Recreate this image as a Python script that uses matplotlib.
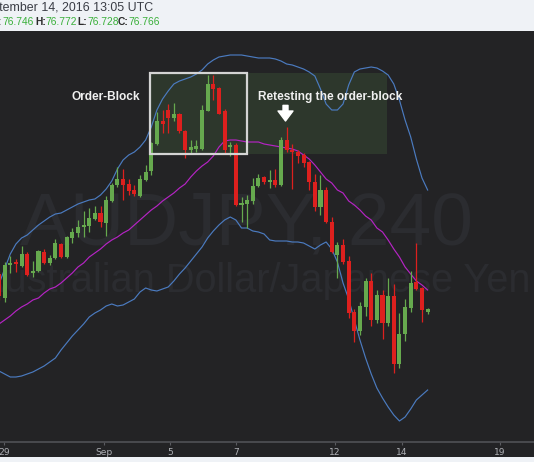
import numpy as np
import matplotlib
matplotlib.use("Agg")
import matplotlib.pyplot as plt
from matplotlib.patches import Rectangle

# ── AUDJPY 4H candles (price values) ──────────────────────────────────────────
opens = [77.046, 76.854, 77.118, 77.142, 77.110, 77.206, 77.054, 77.070, 77.222, 77.134,
         77.174, 77.286, 77.182, 77.338, 77.378, 77.422, 77.430, 77.486, 77.534, 77.458,
         77.634, 77.754, 77.802, 77.762, 77.714, 77.670, 77.798, 77.870, 78.086, 78.266,
         78.358, 78.290, 78.322, 78.190, 78.038, 78.050, 78.050, 78.354, 78.566, 78.530,
         78.346, 78.058, 78.078, 77.598, 77.606, 77.626, 77.750, 77.818, 77.782, 77.798,
         77.754, 78.118, 78.034, 78.026, 77.998, 77.938, 77.782, 77.586, 77.718, 77.466,
         77.194, 77.278, 77.146, 76.738, 76.594, 76.782, 76.986, 76.678, 76.878, 76.658,
         76.870, 76.326, 76.566, 76.774, 76.978, 76.930, 76.746]
highs = [77.070, 77.142, 77.190, 77.166, 77.270, 77.222, 77.150, 77.238, 77.246, 77.198,
         77.326, 77.294, 77.350, 77.414, 77.478, 77.550, 77.574, 77.590, 77.590, 77.670,
         77.774, 77.902, 77.886, 77.806, 77.758, 77.838, 77.918, 78.102, 78.342, 78.358,
         78.410, 78.414, 78.334, 78.198, 78.122, 78.122, 78.398, 78.638, 78.638, 78.542,
         78.366, 78.106, 78.094, 77.666, 77.678, 77.810, 77.850, 77.830, 77.878, 77.882,
         78.138, 78.226, 78.086, 78.038, 78.014, 77.954, 77.850, 77.838, 77.746, 77.502,
         77.306, 77.322, 77.186, 76.766, 76.826, 77.010, 77.054, 76.922, 76.918, 77.018,
         76.966, 76.730, 76.850, 77.066, 77.290, 76.942, 76.772]
lows = [76.838, 76.822, 77.054, 77.062, 77.102, 77.030, 77.022, 77.062, 77.126, 77.118,
        77.166, 77.174, 77.174, 77.294, 77.342, 77.342, 77.382, 77.478, 77.422, 77.350,
        77.622, 77.742, 77.638, 77.678, 77.670, 77.662, 77.790, 77.838, 78.078, 78.174,
        78.170, 78.266, 78.178, 77.974, 78.010, 78.022, 78.038, 78.346, 78.438, 78.322,
        78.014, 77.990, 77.590, 77.466, 77.414, 77.610, 77.742, 77.770, 77.738, 77.746,
        77.750, 78.026, 77.726, 77.934, 77.902, 77.718, 77.546, 77.518, 77.454, 77.214,
        77.010, 77.130, 76.694, 76.502, 76.554, 76.710, 76.630, 76.650, 76.526, 76.630,
        76.258, 76.298, 76.514, 76.746, 76.918, 76.666, 76.728]
closes = [76.870, 77.118, 77.134, 77.126, 77.206, 77.038, 77.070, 77.230, 77.134, 77.174,
          77.294, 77.182, 77.342, 77.382, 77.422, 77.442, 77.494, 77.534, 77.462, 77.638,
          77.758, 77.802, 77.758, 77.706, 77.690, 77.802, 77.862, 78.094, 78.266, 78.246,
          78.290, 78.322, 78.186, 78.038, 78.058, 78.066, 78.358, 78.566, 78.522, 78.330,
          78.038, 78.074, 77.598, 77.610, 77.634, 77.750, 77.818, 77.778, 77.798, 77.754,
          78.118, 78.034, 78.022, 77.994, 77.934, 77.782, 77.586, 77.718, 77.466, 77.226,
          77.278, 77.146, 76.730, 76.594, 76.786, 76.986, 76.678, 76.878, 76.658, 76.870,
          76.326, 76.570, 76.778, 76.978, 76.926, 76.754, 76.766]

# ── Bollinger bands (upper / basis / lower), one value per candle ─────────────
bb_upper = [76.966, 77.086, 77.206, 77.286, 77.334, 77.358, 77.398, 77.438, 77.470, 77.502,
            77.526, 77.534, 77.558, 77.582, 77.606, 77.622, 77.638, 77.646, 77.678, 77.726,
            77.790, 77.886, 77.958, 77.998, 78.022, 78.062, 78.118, 78.222, 78.358, 78.446,
            78.510, 78.566, 78.590, 78.606, 78.622, 78.646, 78.678, 78.726, 78.758, 78.782,
            78.790, 78.798, 78.798, 78.798, 78.790, 78.782, 78.774, 78.774, 78.774, 78.766,
            78.750, 78.726, 78.718, 78.702, 78.686, 78.662, 78.630, 78.526, 78.406, 78.358,
            78.358, 78.406, 78.558, 78.662, 78.686, 78.694, 78.702, 78.694, 78.670, 78.638,
            78.566, 78.438, 78.278, 78.142, 77.966, 77.814, 77.718]
bb_basis = [76.646, 76.678, 76.710, 76.750, 76.782, 76.806, 76.838, 76.854, 76.894, 76.926,
            76.942, 76.974, 77.014, 77.054, 77.102, 77.134, 77.182, 77.214, 77.246, 77.286,
            77.318, 77.342, 77.374, 77.398, 77.438, 77.478, 77.518, 77.558, 77.590, 77.630,
            77.662, 77.694, 77.734, 77.766, 77.822, 77.870, 77.910, 77.942, 77.990, 78.062,
            78.110, 78.118, 78.118, 78.110, 78.102, 78.102, 78.102, 78.086, 78.078, 78.070,
            78.062, 78.054, 78.046, 78.030, 77.998, 77.966, 77.918, 77.862, 77.806, 77.774,
            77.718, 77.694, 77.630, 77.598, 77.558, 77.510, 77.478, 77.414, 77.382, 77.318,
            77.246, 77.182, 77.102, 77.046, 76.990, 76.958, 76.918]
bb_lower = [76.270, 76.246, 76.222, 76.222, 76.230, 76.246, 76.262, 76.286, 76.310, 76.342,
            76.374, 76.438, 76.494, 76.550, 76.598, 76.646, 76.702, 76.734, 76.758, 76.790,
            76.806, 76.790, 76.798, 76.822, 76.846, 76.902, 76.934, 76.918, 76.910, 76.926,
            76.942, 76.990, 77.046, 77.094, 77.150, 77.206, 77.262, 77.334, 77.390, 77.438,
            77.478, 77.502, 77.478, 77.414, 77.414, 77.390, 77.382, 77.366, 77.318, 77.310,
            77.310, 77.310, 77.302, 77.302, 77.294, 77.270, 77.246, 77.278, 77.302, 77.246,
            77.142, 76.974, 76.846, 76.678, 76.518, 76.374, 76.246, 76.134, 76.054, 75.982,
            75.918, 75.870, 75.902, 75.966, 76.038, 76.078, 76.118]

# x-axis day labels, placed at bar-index positions
tick_pos = [0.9, 18.7, 30.3, 42.1, 59.6, 71.4, 88.8]
tick_labels = ["29", "Sep", "5", "7", "12", "14", "19"]

# ── Colours ───────────────────────────────────────────────────────────────────
BG = "#232325"
LIGHT = "#eff2f6"
GREEN = "#66a94e"
RED = "#dd201e"
BLUE = "#4b7bc0"
MAGENTA = "#b523c4"
ZONE = (0.40, 0.63, 0.32, 0.16)
WATERMARK = "#2b2c30"
FONT = "Liberation Sans"

W, H = 534, 462
fig = plt.figure(figsize=(W / 100, H / 100), dpi=100, facecolor=BG)
ax = fig.add_axes([0, 20 / H, 1, 411 / H])
ax.set_facecolor(BG)

x = np.arange(len(opens))
o, c = np.array(opens), np.array(closes)
cols = np.where(c >= o, GREEN, RED)

# watermark (symbol + description)
ax.text(246 / W, (H - 245) / H, "AUDJPY, 240", transform=fig.transFigure,
        ha="center", va="baseline", fontsize=54, color=WATERMARK,
        family=FONT, zorder=0)
ax.text(254 / W, (H - 292) / H, "Australian Dollar/Japanese Yen",
        transform=fig.transFigure, ha="center", va="baseline", fontsize=28.6,
        color=WATERMARK, family=FONT, zorder=0)

# order-block zone and retest zone
ax.add_patch(Rectangle((26.77, 78.004), 43.92 - 26.77, 0.648, facecolor=ZONE,
                       edgecolor="none", zorder=1))
ax.add_patch(Rectangle((43.92, 78.004), 68.74 - 43.92, 0.648, facecolor=ZONE,
                       edgecolor="none", zorder=1))

# bands
ax.plot(x, bb_upper, color=BLUE, lw=0.85, zorder=2)
ax.plot(x, bb_lower, color=BLUE, lw=0.85, zorder=2)
ax.plot(x, bb_basis, color=MAGENTA, lw=0.85, zorder=2)

# candles
ax.vlines(x, lows, highs, colors=cols, lw=0.9, zorder=3)
ax.bar(x, np.maximum(np.abs(c - o), 0.01), bottom=np.minimum(o, c),
       width=0.72, color=cols, lw=0, zorder=4)

# order-block outline on top
ax.add_patch(Rectangle((26.77, 78.004), 43.92 - 26.77, 0.648, facecolor="none",
                       edgecolor="#d4d4d4", lw=1.6, zorder=5))

ax.text(12.89, 78.464, "Order-Block", ha="left", va="center", fontsize=8.6,
        fontweight="bold", color="#f0f0f0", family=FONT, zorder=6)
ax.text(45.98, 78.464, "Retesting the order-block", ha="left", va="center",
        fontsize=8.6, fontweight="bold", color="#f0f0f0", family=FONT, zorder=6)
ax.annotate("", xy=(50.8, 78.27), xytext=(50.8, 78.395),
            arrowprops=dict(arrowstyle="simple,head_width=0.9,head_length=0.6,tail_width=0.3",
                            color="white", mutation_scale=12, shrinkA=0, shrinkB=0),
            zorder=6)

ax.set_xlim(0.177, 94.86)
ax.set_ylim(75.702, 78.990)
for side in ["top", "right", "left"]:
    ax.spines[side].set_visible(False)
ax.spines["bottom"].set_color("#4d4e52")
ax.spines["bottom"].set_linewidth(1.3)
ax.set_yticks([])
ax.set_xticks(tick_pos, tick_labels)
ax.tick_params(axis="x", colors="#5a5b60", length=2.5, width=0.8, pad=1.5,
               labelsize=6.6, labelcolor="#aeb0b5")

# light strips top and bottom (page background around the chart)
fig.patches.append(Rectangle((0, (H - 31) / H), 1, 31 / H, transform=fig.transFigure,
                             facecolor=LIGHT, edgecolor="none", zorder=-1))
fig.patches.append(Rectangle((0, 0), 1, 5 / H, transform=fig.transFigure,
                             facecolor=LIGHT, edgecolor="none", zorder=-1))

# header: date line and OHLC of the last bar
fig.text(153 / W, (H - 8.5) / H, "September 14, 2016 13:05 UTC", ha="right",
         va="center", fontsize=8.9, color="#3a3d45", family=FONT)
y2 = (H - 22) / H
fig.text(2 / W, y2, "O:", ha="right", va="center", fontsize=7.4,
         fontweight="bold", color="#2a2a2a", family=FONT)
header = [("", opens[-1], 2.7), ("H:", highs[-1], 35), ("L:", lows[-1], 77),
          ("C:", closes[-1], 118)]
for lab, val, px in header:
    vx = px
    if lab:
        fig.text(px / W, y2, lab, ha="left", va="center", fontsize=7.4,
                 fontweight="bold", color="#2a2a2a", family=FONT)
        vx = px + 10
    fig.text(vx / W, y2, f"{val:.3f}", ha="left", va="center", fontsize=7.4,
             color="#3ab03a", family=FONT)

fig.savefig("out.png", dpi=100, facecolor=BG)
